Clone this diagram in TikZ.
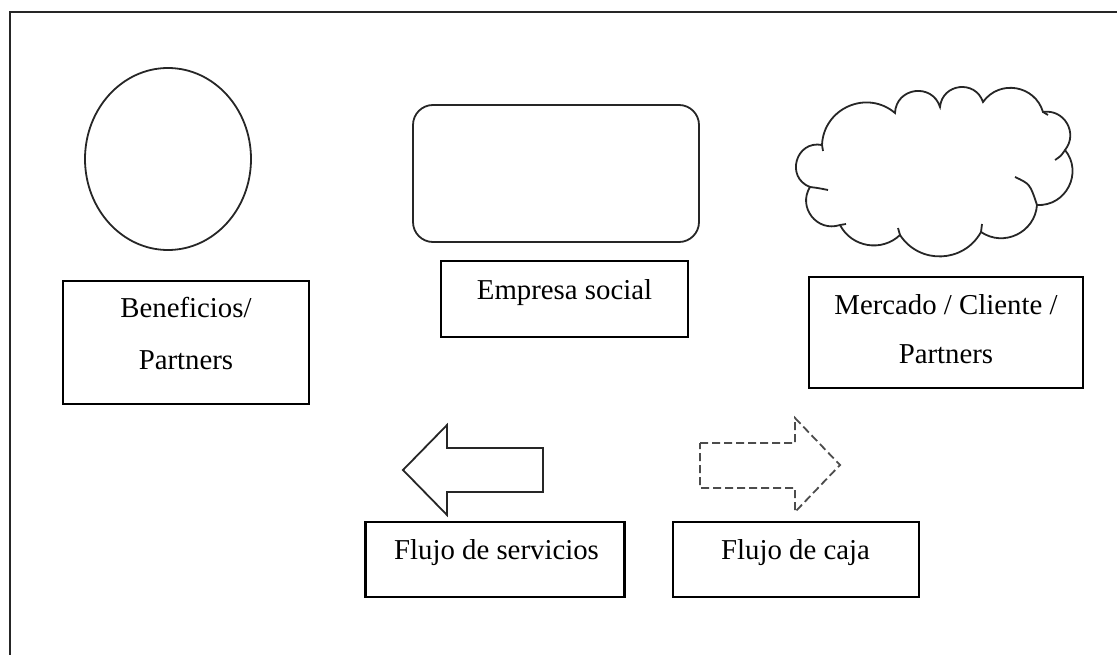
\documentclass[tikz,border=0pt]{standalone}
\usepackage{fontspec}
\setmainfont{Liberation Serif}
\usetikzlibrary{shapes.geometric}
\tikzset{
  labelbox/.style={draw=black, line width=2.4pt, rectangle, inner sep=0pt},
  boxtext/.style={anchor=base, inner sep=0pt, font=\fontsize{28.8}{34}\selectfont},
  outline/.style={draw=black!85, line width=1.8pt},
  % circular puff: bend angle b, looseness 0.8514/cos^2(b/2)
  puff/.style={bend left=#1, looseness={0.8514/(cos(#1/2)^2)}},
}
\begin{document}
\begin{tikzpicture}[x=1pt, y=-1pt]
  \useasboundingbox (0,0) rectangle (1117,655);

  % open frame: top and left edges
  \draw[line width=2.5pt, black!85] (10,655) -- (10,12) -- (1117,12);

  % symbols of the legend
  \node[outline, ellipse, minimum width=166pt, minimum height=182pt, inner sep=0pt] (beneficio) at (168,159) {};
  \draw[outline, rounded corners=20pt] (413,105) rectangle (699,242);

  % cloud built from eleven circular puffs
  \draw[outline, line join=miter]
    (822,145) to[puff=64] (895,113)
              to[puff=80] (940,107)
              to[puff=78] (983,102)
              to[puff=64] (1043,112)
              to[puff=69] (1065,150)
              to[puff=66] (1037,205)
              to[puff=60] (981,232)
              to[puff=59] (900,235)
              to[puff=53] (840,225)
              to[puff=70] (810,187)
              to[puff=85] (822,145);
  % inner strokes where the puffs overlap
  \draw[outline] (1015,177) .. controls (1030,184) .. (1037,205);
  \draw[outline] (1065,150) .. controls (1061,156) .. (1055,160);
  \draw[outline] (810,187) .. controls (818,188) .. (828,190);
  \draw[outline] (981,232) -- (982,224);
  \draw[outline] (900,235) -- (898,228);
  \draw[outline] (840,225) -- (846,224);
  \draw[outline] (822,145) -- (823,151);
  \draw[outline] (1043,112) -- (1048,115);

  % left block arrow: flow of services
  \draw[outline, line join=miter]
    (403,470) -- (447,425) -- (447,448) -- (543,448) -- (543,492)
    -- (447,492) -- (447,515) -- cycle;

  % right dashed block arrow: cash flow
  \draw[draw=black!70, line width=1.8pt, dash pattern=on 8pt off 4pt]
    (700,443) -- (795,443) -- (795,418) -- (840,465) -- (795,512)
    -- (795,488) -- (700,488) -- cycle;

  % label boxes
  \node[labelbox, minimum width=246pt, minimum height=123pt] (b1) at (186,342.5) {};
  \node[boxtext] (b1a) at (186,317.5) {Beneficios/};
  \node[boxtext] (b1b) at (186,369) {Partners};

  \node[labelbox, minimum width=247pt, minimum height=76pt] (b2) at (564.5,299) {};
  \node[boxtext] (b2a) at (564.5,299) {Empresa social};

  \node[labelbox, minimum width=274pt, minimum height=111pt] (b3) at (946,332.5) {};
  \node[boxtext] (b3a) at (946,315) {Mercado / Cliente /};
  \node[boxtext] (b3b) at (946,363) {Partners};

  \node[labelbox, minimum width=259pt, minimum height=75pt] (b4) at (495,559.5) {};
  \node[boxtext] (b4a) at (496.5,559) {Flujo de servicios};

  \node[labelbox, minimum width=246pt, minimum height=75pt] (b5) at (796,559.5) {};
  \node[boxtext] (b5a) at (795.5,559) {Flujo de caja};
\end{tikzpicture}
\end{document}
